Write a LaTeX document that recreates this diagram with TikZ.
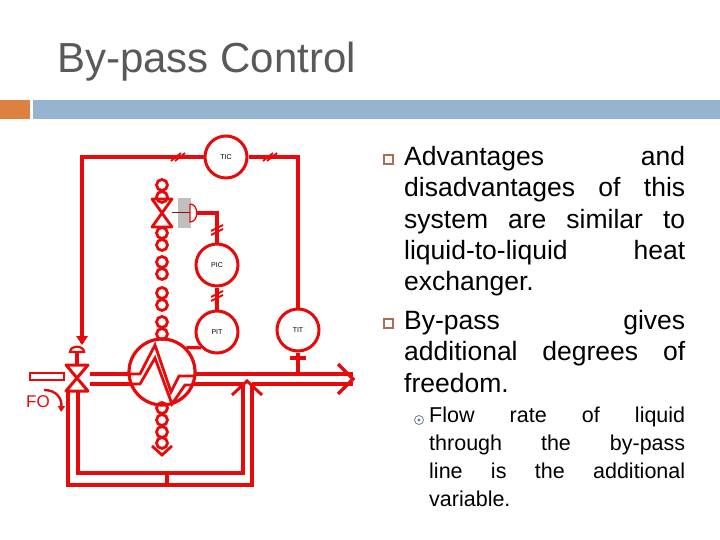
\documentclass[tikz,border=0pt]{standalone}
\usepackage{fontspec}
\setmainfont{Liberation Sans}
\usetikzlibrary{arrows.meta}
\definecolor{pr}{RGB}{230,10,10}
\definecolor{tgray}{RGB}{89,89,89}
\definecolor{bor}{RGB}{222,128,64}
\definecolor{bblue}{RGB}{148,180,208}
\definecolor{bulc}{RGB}{170,110,80}
\newcommand{\myNoHy}{\hyphenpenalty=10000\relax\exhyphenpenalty=10000\relax}
\begin{document}
\begin{tikzpicture}[x=1pt,y=-1pt,
  pipe/.style={draw=pr,line width=3.2pt},
  inst/.style={circle,draw=pr,line width=3pt,minimum size=42pt,inner sep=0pt,font=\fontsize{7}{8}\selectfont},
  bead/.style={circle,draw=pr,line width=2.8pt,minimum size=11pt,inner sep=0pt},
  body/.style={text width=281pt,align=justify,font=\fontsize{26.5}{31.3}\selectfont,inner sep=0pt},
  sub/.style={text width=256pt,align=justify,font=\fontsize{21.5}{28}\selectfont,inner sep=0pt}]
\useasboundingbox (0,0) rectangle (720,540);
\node[anchor=base west,text=tgray,font=\fontsize{42}{46}\selectfont,inner sep=0pt] (title) at (57,73) {By-pass Control};
\fill[bor] (0,100) rectangle (30,119);
\fill[bblue] (33,100) rectangle (720,119);
% text
\node[body,anchor=north west] (t1) at (404,146) {\myNoHy Advantages and\linebreak disadvantages of this\linebreak system are similar to\linebreak liquid-to-liquid heat\linebreak exchanger.};
\node[body,anchor=north west] (t2) at (404,310) {\myNoHy By-pass gives\linebreak additional degrees of\linebreak freedom.};
\node[sub,anchor=north west] (t3) at (429,407) {\myNoHy Flow rate of liquid\linebreak through the by-pass\linebreak line is the additional\linebreak variable.};
\draw[bulc,line width=1.2pt] (384,155) rectangle (393,164);
\draw[bulc,line width=1.2pt] (384,319) rectangle (393,328);
\draw[bblue!70!black,line width=0.8pt] (419,420) circle (4.5pt);
\fill[bblue!70!black] (419,420) circle (1.7pt);
% instruments
\node[inst] (tic) at (226,157) {TIC};
\node[inst] (pic) at (217,265) {PIC};
\node[inst] (pit) at (217,332) {PIT};
\node[inst] (tit) at (298,330) {TIT};
\node[circle,draw=pr,line width=3.2pt,minimum size=66pt,inner sep=0pt] (hx) at (162,372) {};
% signal lines
\coordinate (tl) at (82,157);
\coordinate (tr) at (298,157);
\coordinate (va) at (82,343);
\draw[pipe] (tic.west) -- (tl) -- (va);
\draw[pipe] (tic.east) -- (tr) -- (tit.north);
\fill[pr] (76,336) -- (88,336) -- (82,345) -- cycle;
\foreach \x in {176,180} \draw[pr,line width=1.8pt] (\x-5,161) -- (\x+5,153);
\foreach \x in {268,272} \draw[pr,line width=1.8pt] (\x-5,161) -- (\x+5,153);
\coordinate (act) at (197,213);
\coordinate (pc) at (217,213);
\draw[pipe] (pic.north) -- (pc) -- (act);
\draw[pipe] (pit.north) -- (pic.south);
\foreach \y in {228,232,294,298} \draw[pr,line width=1.8pt] (211,\y+3) -- (223,\y-3);
\draw[pipe] (pit.south west) -- (hx.north east);
% actuator on steam valve
\fill[gray!50] (178,198) rectangle (191,228);
\draw[pr!70!black,line width=1pt] (172,213) -- (190,213);
\draw[pr,line width=1.3pt,fill=white] (190,204) -- (190,222) .. controls (199,222) and (199,204) .. (190,204);
% steam column
\foreach \y in {185,197,233,245,262,274,293,305,322,334,408,420,432,443}
  \node[bead] at (162,\y) {};
\draw[pr,line width=2.8pt,line join=round] (152,199) -- (172,199) -- (152,227) -- (172,227) -- cycle;
\draw[pr,line width=2.8pt] (152,446) -- (162,455) -- (172,446);
% main valve
\draw[pr,line width=3pt,line join=round] (66,365) -- (88,365) -- (66,391) -- (88,391) -- cycle;
\draw[pipe] (77,352) -- (77,365);
\draw[pr,line width=2.2pt] (70,352) .. controls (70,345) and (84,345) .. (84,352) -- cycle;
% inlet
\draw[pr,line width=2.6pt] (30,373) rectangle (64,380);
% process pipes
\draw[pipe] (90,374) -- (130,374);
\draw[pipe] (90,384) -- (131,384);
\draw[pipe] (194,374) -- (353,374);
\draw[pipe] (193,384) -- (243,384);
\draw[pipe] (252,384) -- (353,384);
\draw[pipe,line join=miter] (338,364) -- (353,379) -- (338,394);
% zigzags
\draw[pr,line width=2.8pt,line join=miter] (130,374) -- (140,374) -- (155,345) -- (171,392) -- (179,376) -- (194,376);
\draw[pr,line width=2.8pt,line join=miter] (130,384) -- (140,384) -- (155,358) -- (172,404) -- (185,385) -- (193,385);
% bypass
\draw[pipe] (68,391) -- (68,485) -- (252,485) -- (252,384);
\draw[pipe] (78,391) -- (78,473) -- (243,473) -- (243,384);
\draw[pipe] (167,473) -- (167,485);
\draw[pr,line width=3pt,line join=miter] (232,395) -- (247,381) -- (262,395);
% TIT stem
\draw[pipe] (tit.south) -- (298,374);
\draw[pipe] (290,358) -- (306,358);
% FO
\node[text=pr,font=\fontsize{17}{18}\selectfont,inner sep=0pt] (fo) at (38,402) {FO};
\draw[pr,line width=2.4pt,-{Triangle[length=6pt,width=7pt]}] (44,390) .. controls (56,390) and (62,398) .. (61,412);
\end{tikzpicture}
\end{document}
